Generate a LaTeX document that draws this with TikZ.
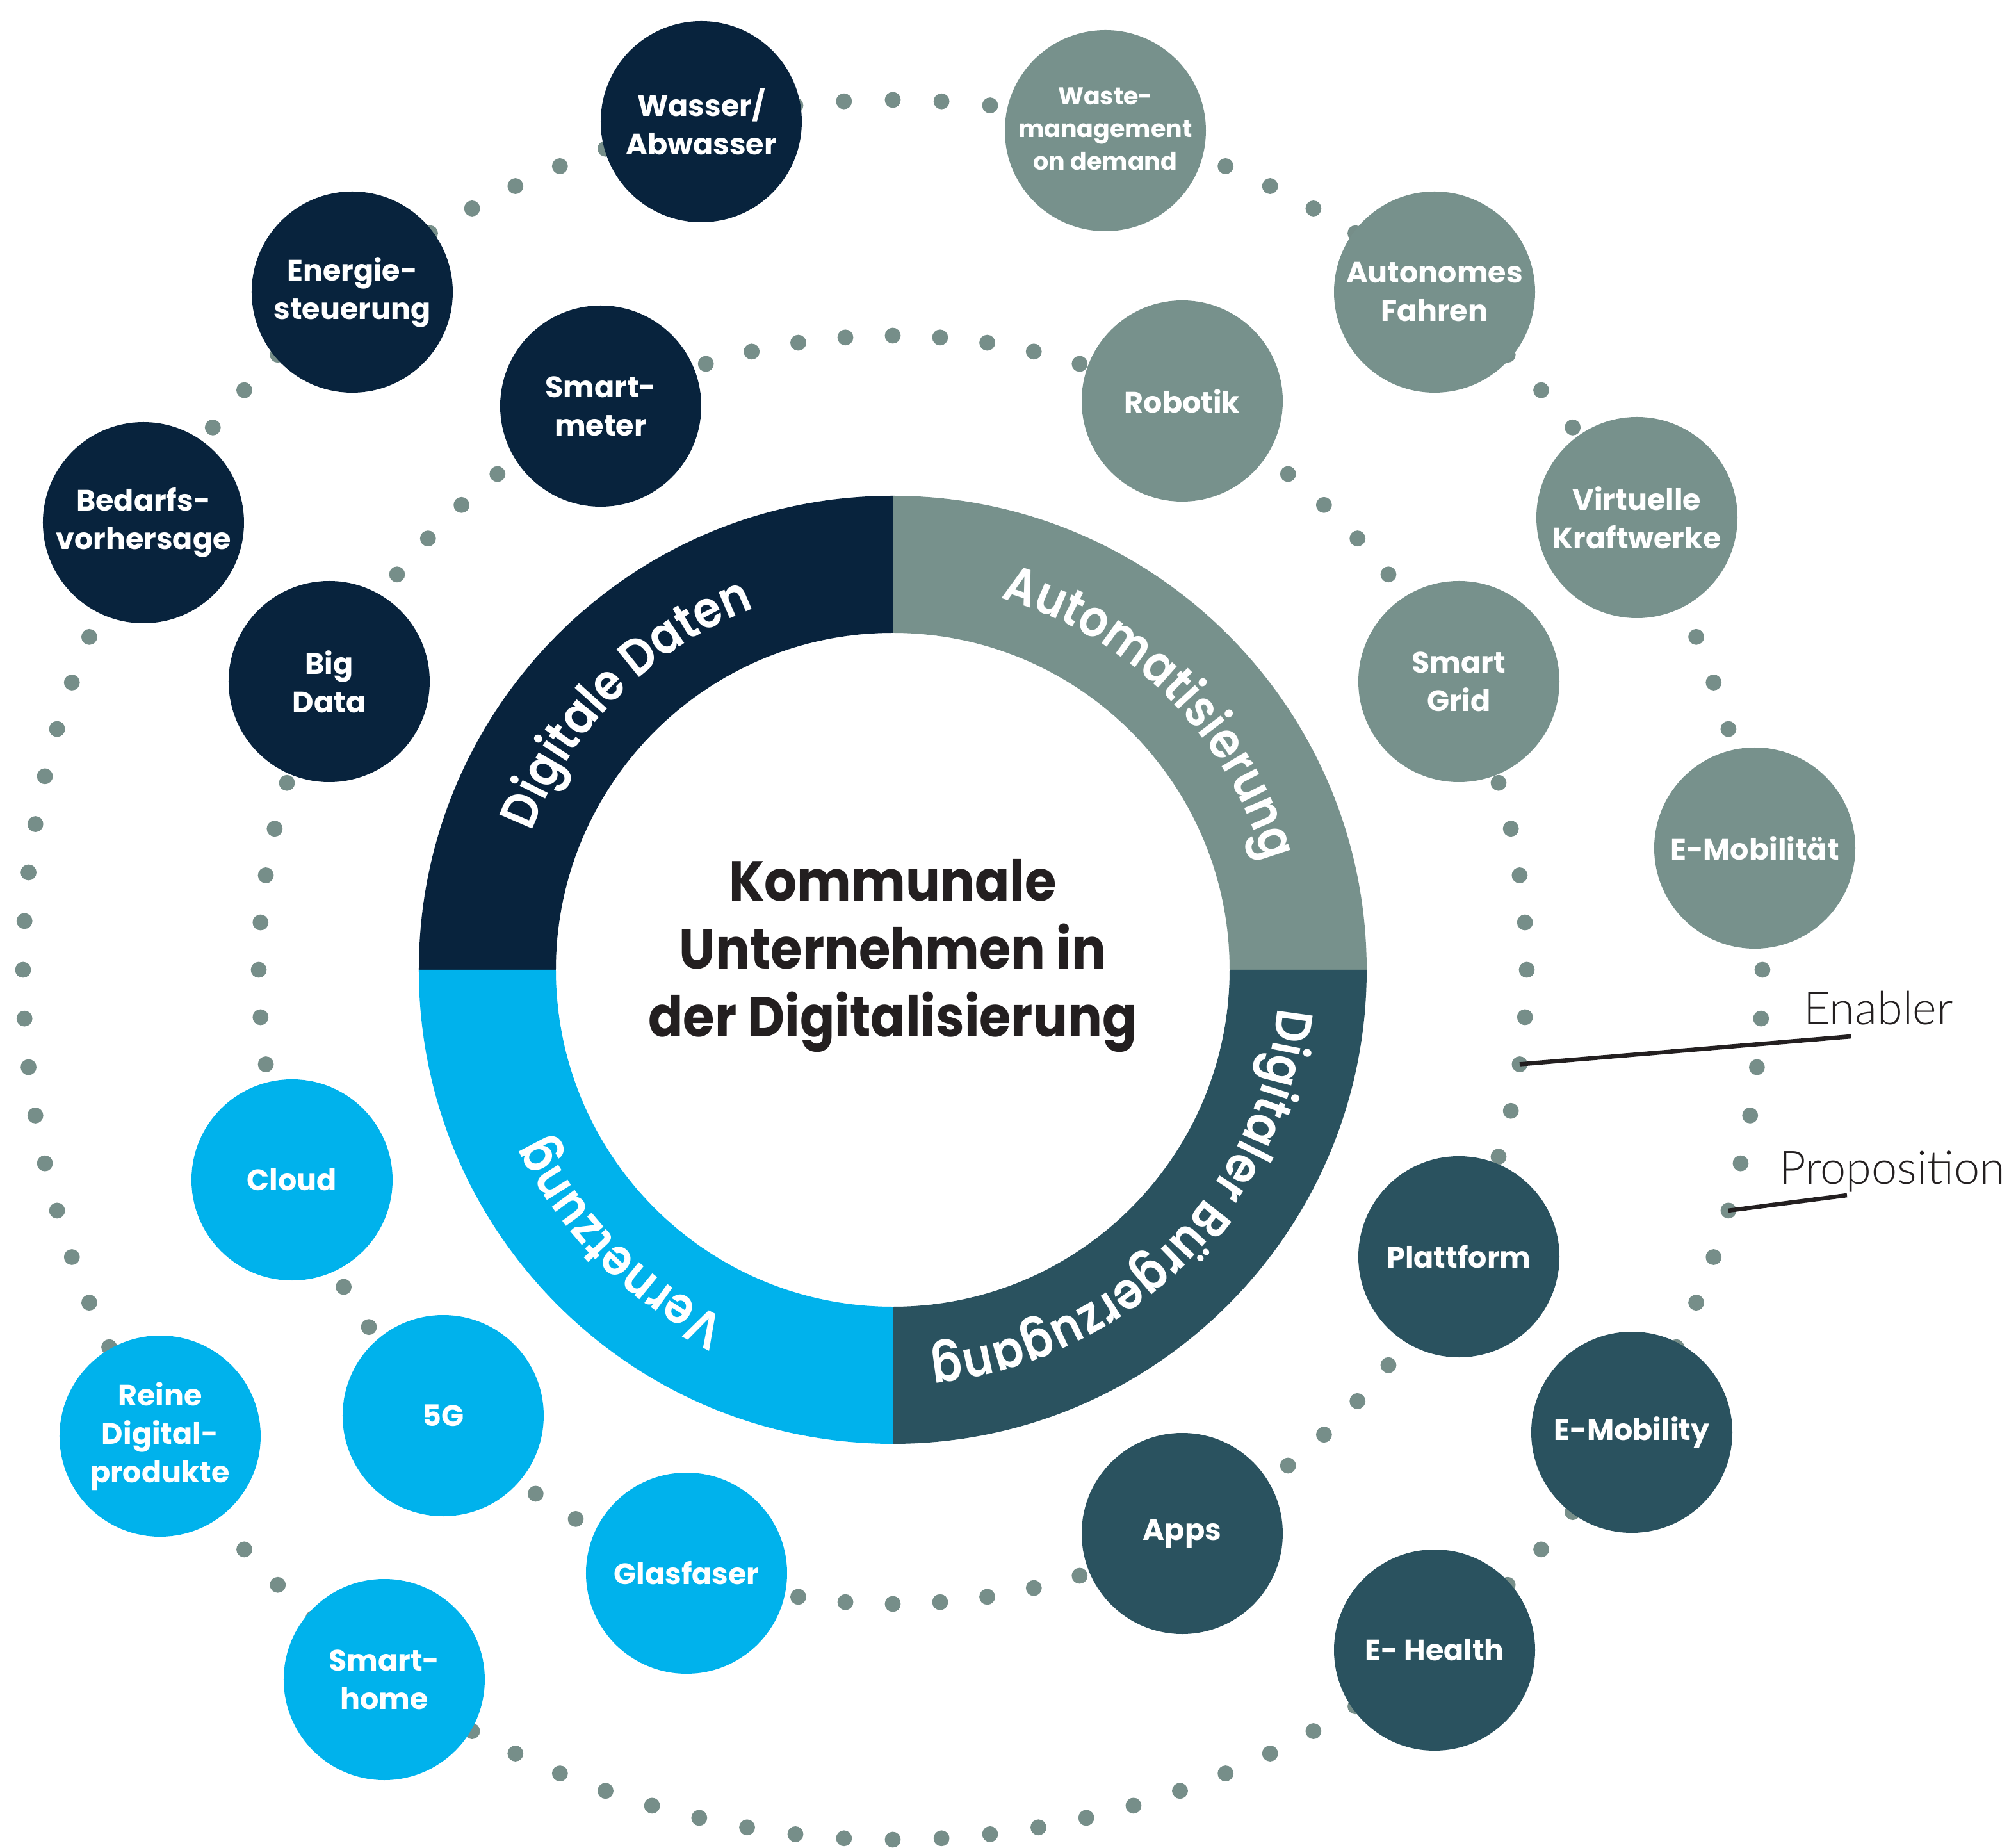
\documentclass[tikz,border=0pt]{standalone}
\usepackage{fontspec}
\setmainfont{Poppins}
\IfFontExistsTF{Poppins SemiBold}
  {\newfontfamily\ringfont{Poppins SemiBold}[FakeStretch=0.88]}
  {\newfontfamily\ringfont{Poppins}[UprightFont={* Bold}, FakeStretch=0.88]}
\newfontfamily\titlefont{Poppins}[FakeStretch=0.91]
\IfFontExistsTF{Lato Light}
  {\newfontfamily\notefont{Lato Light}}
  {\newfontfamily\notefont{TeX Gyre Heros}}
\usetikzlibrary{decorations.text}

\definecolor{navy}{HTML}{08233D}
\definecolor{sage}{HTML}{77918C}
\definecolor{petrol}{HTML}{2A525F}
\definecolor{sky}{HTML}{00B2EC}
\definecolor{dotc}{HTML}{768E89}
\definecolor{ink}{HTML}{231F20}

\tikzset{
  bubble/.style={circle, minimum size=157pt, inner sep=0pt, text=white,
    align=center, font=\bfseries\fontsize{23}{30}\selectfont},
  navybubble/.style={bubble, fill=navy},
  sagebubble/.style={bubble, fill=sage},
  petrolbubble/.style={bubble, fill=petrol},
  skybubble/.style={bubble, fill=sky},
  dotmark/.style={fill=dotc},
  leader/.style={line width=3.3pt, draw=ink},
  notetext/.style={text=ink, inner sep=0pt, font=\notefont\fontsize{36}{36}\selectfont},
  ringtext/.style={decorate, decoration={text along path, text align=center,
    text color=white, text={|\ringfont\fontsize{40}{40}\selectfont|#1}}}
}

\begin{document}
\begin{tikzpicture}[x=1pt, y=1pt]
\useasboundingbox (-697,-685.5) rectangle (871.5,757);

% dotted orbits
\foreach \i in {0,...,111}
  \fill[dotmark] ({90-\i*(360/112)}:679) circle[radius=6.2];
\foreach \i in {0,...,83}
  \fill[dotmark] ({90-\i*(360/84)}:495) circle[radius=6.2];

% four ring segments
\fill[navy] (180:370) arc[start angle=180, end angle=90, radius=370]
  -- (90:263) arc[start angle=90, end angle=180, radius=263] -- cycle;
\fill[sage] (90:370) arc[start angle=90, end angle=0, radius=370]
  -- (0:263) arc[start angle=0, end angle=90, radius=263] -- cycle;
\fill[petrol] (0:370) arc[start angle=0, end angle=-90, radius=370]
  -- (-90:263) arc[start angle=-90, end angle=0, radius=263] -- cycle;
\fill[sky] (-90:370) arc[start angle=-90, end angle=-180, radius=370]
  -- (-180:263) arc[start angle=-180, end angle=-90, radius=263] -- cycle;

% curved ring titles (clockwise, letter tops outward)
\path[ringtext={Digitale Daten}] (180:302) arc[start angle=180, end angle=90, radius=302];
\path[ringtext={Automatisierung}] (90:302) arc[start angle=90, end angle=0, radius=302];
\path[ringtext={Digitaler Bürgerzugang}] (0:302) arc[start angle=0, end angle=-90, radius=302];
\path[ringtext={Vernetzung}] (-90:302) arc[start angle=-90, end angle=-180, radius=302];

% centre title
\node[text=ink, align=center, font=\titlefont\bfseries\fontsize{44}{53}\selectfont] (title) at (0,11)
  {Kommunale\\Unternehmen in\\der Digitalisierung};

% outer orbit
\node[navybubble] (wasser) at (-149.5,662) {Wasser/\\Abwasser};
\node[navybubble] (energie) at (-422,529) {Energie-\\steuerung};
\node[navybubble] (bedarf) at (-585,349) {Bedarfs-\\vorhersage};
\node[sagebubble, font=\bfseries\fontsize{19}{25.5}\selectfont] (waste) at (166,655)
  {\raisebox{4pt}{\begin{tabular}{@{}c@{}}Waste-\\management\\on demand\end{tabular}}};
\node[sagebubble] (autonom) at (423,529) {Autonomes\\Fahren};
\node[sagebubble] (kraftwerk) at (581,353) {Virtuelle\\Kraftwerke};
\node[sagebubble] (emob) at (673,95) {E-Mobilität};
\node[petrolbubble] (emobility) at (577,-361) {E-Mobility};
\node[petrolbubble] (ehealth) at (423,-531) {E- Health};
\node[skybubble] (reine) at (-572,-364) {Reine\\Digital-\\produkte};
\node[skybubble] (smarthome) at (-397,-554) {Smart-\\home};

% inner orbit
\node[navybubble] (meter) at (-228,440) {Smart-\\meter};
\node[navybubble] (bigdata) at (-440,225) {Big\\Data};
\node[sagebubble] (robotik) at (226,444) {Robotik};
\node[sagebubble] (grid) at (442,225) {Smart\\Grid};
\node[petrolbubble] (plattform) at (442,-224) {Plattform};
\node[petrolbubble] (apps) at (226,-440) {Apps};
\node[skybubble] (cloud) at (-469,-164) {Cloud};
\node[skybubble] (fiveg) at (-351,-348) {5G};
\node[skybubble] (glas) at (-161,-471) {Glasfaser};

% legend leaders
\coordinate (enablerdot) at ({90-23*(360/84)}:495);
\coordinate (enablerend) at (748,-52);
\coordinate (propdot) at ({90-33*(360/112)}:679);
\coordinate (propend) at (745,-176);
\draw[leader] (enablerdot) -- (enablerend);
\draw[leader] (propdot) -- (propend);
\node[notetext, anchor=base west] (enabler) at (711,-43) {Enabler};
\node[notetext, anchor=base west] (proposition) at (692,-167) {Proposition};
\end{tikzpicture}
\end{document}
